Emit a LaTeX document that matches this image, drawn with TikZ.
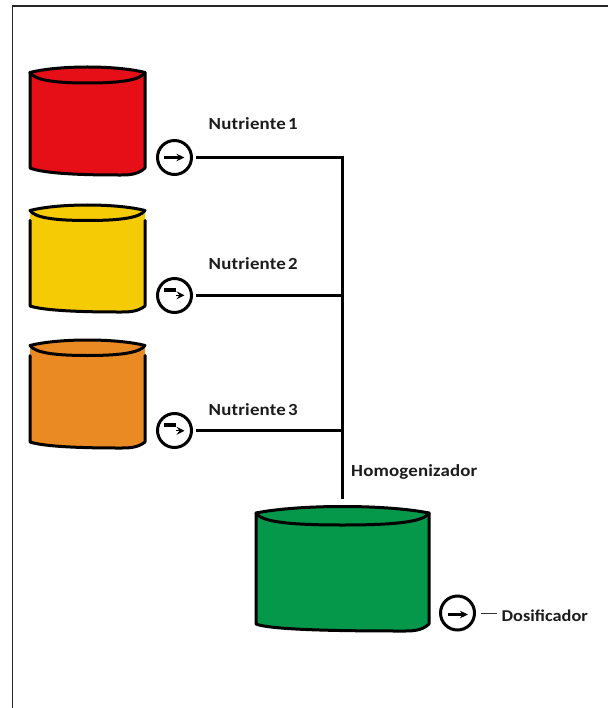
\documentclass[tikz,border=0pt]{standalone}
\usepackage{fontspec}
\setmainfont{Carlito}
\newfontfamily\tagfont{Carlito}[FakeStretch=1.11,LetterSpace=1]
\newfontfamily\tagfontb{Carlito}[FakeStretch=1.11]
\definecolor{tankred}{HTML}{E60F17}
\definecolor{tankyellow}{HTML}{F5CB05}
\definecolor{tankorange}{HTML}{EA8A22}
\definecolor{tankgreen}{HTML}{05974A}
\definecolor{labelink}{HTML}{1C1C1C}
\newcommand{\tankshape}[9]{% x1,x2,rim,peak,front,sidebottom,bottom,colour,side gap
  \path[fill=#8] (#1,#3) .. controls ({#1+(#2-#1)*0.25},{#3-(#3-#4)/0.75}) and ({#2-(#2-#1)*0.25},{#3-(#3-#4)/0.75}) .. (#2,#3)
    -- (#2,#6) .. controls ({#2-8},{#7+0.5}) and ({#2-18},#7) .. ({#2-28},#7)
    .. controls ({#1+(#2-#1)*0.5},#7) and ({#1+15},{#7-1}) .. (#1,#6) -- cycle;
  \draw[tankline] (#1,#3) .. controls ({#1+(#2-#1)*0.25},{#3-(#3-#4)/0.75}) and ({#2-(#2-#1)*0.25},{#3-(#3-#4)/0.75}) .. (#2,#3);
  \draw[tankline] (#1,#3) .. controls ({#1+5},{#5-3}) and ({#1+(#2-#1)*0.2},#5) .. ({#1+(#2-#1)*0.5},#5)
    .. controls ({#2-(#2-#1)*0.2},#5) and ({#2-5},{#5-3}) .. (#2,#3);
  \draw[tankline] (#1,{#3+#9}) -- (#1,#6) .. controls ({#1+15},{#7-1}) and ({#1+(#2-#1)*0.5},#7) .. ({#2-28},#7)
    .. controls ({#2-18},#7) and ({#2-8},{#7+0.5}) .. (#2,#6) -- (#2,{#3+#9});
}
\tikzset{
  tankline/.style={line width=3pt,black,line join=round,line cap=round},
  pipe/.style={line width=3pt,black},
  pump/.style={circle,draw=black,line width=3pt,fill=white,minimum size=34pt,inner sep=0pt},
  tag/.style={text=labelink,font=\tagfont\bfseries\fontsize{17}{19}\selectfont,inner sep=0pt,anchor=west},
  tagb/.style={text=labelink,font=\tagfontb\bfseries\fontsize{16.5}{18}\selectfont,inner sep=0pt,anchor=west},
  flowline/.style={line width=2.2pt,black,-{Stealth[length=8pt,width=7.5pt]}},
  flowbar/.style={line width=3.6pt,black},
  flowhead/.style={line width=1pt,black,-{Stealth[length=8pt,width=8pt,inset=3pt]}},
}
\usetikzlibrary{arrows.meta}
\begin{document}
\begin{tikzpicture}[x=1pt,y=-1pt]
\useasboundingbox (0,0) rectangle (608,708);
\fill[white] (0,0) rectangle (608,708);
\draw[line width=1.6pt,black!85] (12.5,708) -- (12.5,6) -- (608,6);

\tankshape{30}{145}{72.5}{67}{83}{168}{175}{tankred}{0}
\tankshape{30}{145}{210.5}{205}{220.5}{306}{312}{tankyellow}{10}
\tankshape{30}{145}{345.5}{340}{355.5}{442}{448}{tankorange}{10}
\tankshape{256}{429}{513}{506.5}{525}{624}{631}{tankgreen}{0}

\node[pump] (p1) at (174.5,157.5) {};
\node[pump] (p2) at (174.5,295.5) {};
\node[pump] (p3) at (174.5,430.5) {};
\node[pump] (p4) at (457.5,613) {};

\draw[flowline] (164,157.5) -- (184.5,157.5);
\draw[flowbar] (164,289.8) -- (176,289.8);
\draw[flowhead] (176,295.3) -- (184.5,295.3);
\draw[flowbar] (164,424.8) -- (176,424.8);
\draw[flowhead] (176,430.8) -- (184.5,430.8);
\draw[flowline] (448,614.5) -- (468,614.5);

\coordinate (s1) at (196,157.5);
\coordinate (s2) at (196,295.5);
\coordinate (s3) at (196,430);
\coordinate (j1) at (342.5,157.5);
\coordinate (j2) at (342.5,295.5);
\coordinate (j3) at (342.5,430);
\coordinate (tk) at (342.5,497);
\draw[pipe] (s1) -- (j1);
\draw[pipe] (s2) -- (j2);
\draw[pipe] (s3) -- (j3);
\draw[pipe,line cap=rect] (j1) -- (tk);

\node[tag] (n1) at (208.5,123.5) {Nutriente\hspace{-2pt} 1};
\node[tag] (n2) at (208.5,263.5) {Nutriente\hspace{-2pt} 2};
\node[tag] (n3) at (208.5,409.5) {Nutriente\hspace{-2pt} 3};
\node[tag] (h) at (351,472) {Homogenizador};
\node[tagb] (d) at (501.5,615.5) {Dosificador};
\coordinate (d0) at (481,613.5);
\coordinate (d1) at (497,613.5);
\draw[line width=0.8pt,black!80] (d0) -- (d1);
\end{tikzpicture}
\end{document}
